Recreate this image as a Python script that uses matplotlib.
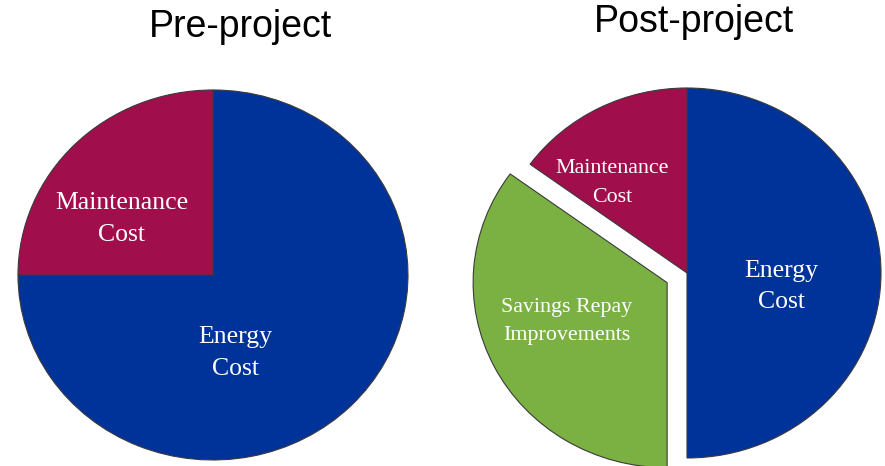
import matplotlib
matplotlib.use("Agg")
import matplotlib.pyplot as plt

# Cost shares (percent of total annual cost), listed clockwise from 12 o'clock
pre_labels = ["Energy\nCost", "Maintenance\nCost"]
pre_values = [75, 25]

post_labels = ["Energy\nCost", "Savings Repay\nImprovements", "Maintenance\nCost"]
post_values = [50, 35, 15]
post_explode = [0, 0.115, 0]

BLUE = "#003399"
MAROON = "#A10E4C"
GREEN = "#7BB143"
EDGE = "#3a3a3a"

W, H = 885, 466
fig = plt.figure(figsize=(W / 100, H / 100), dpi=100)
fig.patch.set_facecolor("white")

SERIF = ["Liberation Serif", "DejaVu Serif"]
SANS = ["Liberation Sans", "DejaVu Sans"]


def pie_axes(cx, cy, rx, ry):
    # cx, cy: centre in pixels from top-left; rx, ry: radii in pixels
    return fig.add_axes([(cx - rx) / W, (H - cy - ry) / H, 2 * rx / W, 2 * ry / H])


def draw(ax, values, colors, explode=None):
    wedges, _ = ax.pie(values, colors=colors, startangle=90, counterclock=False,
                       explode=explode, radius=1.0,
                       wedgeprops=dict(edgecolor=EDGE, linewidth=0.8))
    for w in wedges:
        w.set_clip_on(False)
    ax.set_aspect("auto")
    ax.set_xlim(-1, 1)
    ax.set_ylim(-1, 1)
    ax.axis("off")
    return wedges


def label(ax, x, y, s, size, spacing):
    ax.text(x, y, s, color="white", family=SERIF, fontsize=size,
            ha="center", va="center", linespacing=spacing)


# Pre-project pie
ax1 = pie_axes(213, 275, 195, 185)
draw(ax1, pre_values, [BLUE, MAROON])
label(ax1, 0.113, -0.42, pre_labels[0], 18.5, 1.6)
label(ax1, -0.467, 0.302, pre_labels[1], 18.5, 1.6)

# Post-project pie
ax2 = pie_axes(687, 273, 194, 185)
draw(ax2, post_values, [BLUE, GREEN, MAROON], explode=post_explode)
label(ax2, 0.485, -0.072, post_labels[0], 18.5, 1.55)
label(ax2, -0.619, -0.262, post_labels[1], 15.8, 1.65)
label(ax2, -0.387, 0.485, post_labels[2], 15.8, 1.7)

fig.text(240 / W, 1 - 27 / H, "Pre-project", ha="center", va="center",
         family=SANS, fontsize=27, color="black")
fig.text(694 / W, 1 - 22 / H, "Post-project", ha="center", va="center",
         family=SANS, fontsize=27, color="black")

fig.savefig("out.png", dpi=100, facecolor="white")
